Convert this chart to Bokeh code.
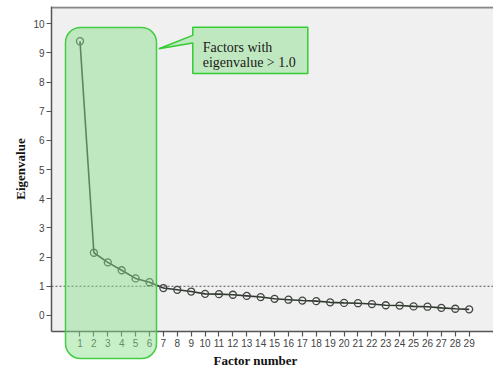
from bokeh.plotting import figure
from bokeh.models import BoxAnnotation, PolyAnnotation, Span, Label, Title, FixedTicker, ColumnDataSource, Range1d
from bokeh.embed import file_html
from bokeh.resources import INLINE

factors = list(range(1, 30))
eigenvalues = [9.40, 2.15, 1.82, 1.55, 1.27, 1.14, 0.94, 0.88, 0.82, 0.74,
               0.73, 0.71, 0.67, 0.63, 0.57, 0.54, 0.51, 0.49, 0.45, 0.43,
               0.42, 0.39, 0.35, 0.34, 0.31, 0.30, 0.26, 0.23, 0.21]
y_ticks = list(range(0, 11))
threshold = 1.0
callout_lines = ["Factors with", "eigenvalue  > 1.0"]
x_title = "Factor number"
y_title = "Eigenvalue"

W, H = 493, 369
src = ColumnDataSource(dict(x=factors, y=eigenvalues))

p = figure(width=W, height=H, output_backend="svg", toolbar_location=None,
           x_range=Range1d(-1.05, 30.75), y_range=Range1d(-0.55, 10.59),
           min_border_left=51, min_border_right=0, min_border_top=6, min_border_bottom=38)
p.background_fill_color = "#f0f0f0"
p.border_fill_color = "white"
p.outline_line_color = None
p.xgrid.visible = False
p.ygrid.visible = False

for ax in (p.xaxis[0], p.yaxis[0]):
    ax.axis_line_color = "#555555"
    ax.axis_line_width = 1.5
    ax.major_tick_line_color = "#555555"
    ax.major_tick_line_width = 1.2
    ax.major_tick_in = 0
    ax.major_tick_out = 5
    ax.minor_tick_line_color = None
    ax.major_label_text_font = "Liberation Sans"
    ax.major_label_text_font_size = "10px"
    ax.major_label_text_color = "#444444"
    ax.major_label_standoff = 2

p.xaxis.ticker = FixedTicker(ticks=factors)
p.yaxis.ticker = FixedTicker(ticks=y_ticks)

# top border
p.add_layout(Span(location=10.56, dimension="width", line_color="#888888", line_width=2))

# threshold line
p.add_layout(Span(location=threshold, dimension="width", line_color="#555555",
                  line_width=1, line_dash="2 2"))

p.line("x", "y", source=src, line_color="#2f3a2f", line_width=1.6)
p.scatter("x", "y", source=src, size=7, marker="circle", fill_color=None,
          line_color="#444444", line_width=1.3)

# callout
p.add_layout(PolyAnnotation(xs=[9.115, 17.39, 17.39, 9.115, 9.115, 6.67, 9.115],
                            ys=[9.88, 9.88, 8.29, 8.29, 9.335, 9.14, 9.60],
                            fill_color="#c0e8c0", fill_alpha=1.0,
                            line_color="#33cc33", line_alpha=1.0, line_width=1.5))
for i, t in enumerate(callout_lines):
    p.add_layout(Label(x=9.83, y=9.20 - i * 0.52, text=t, text_font="Liberation Serif",
                       text_font_size="14px", text_color="#1a1a1a",
                       text_baseline="alphabetic"))

p.add_layout(Title(text=x_title, align="left", offset=162, standoff=2,
                   text_font="Liberation Serif", text_font_size="13px",
                   text_font_style="bold", text_color="#111111"), "below")
p.add_layout(Title(text=y_title, align="center", offset=6, standoff=6,
                   text_font="Liberation Serif", text_font_size="13px",
                   text_font_style="bold", text_color="#111111"), "left")

# transparent overlay canvas for the highlight box, which extends below the axis
ov = figure(width=W, height=H, output_backend="svg", toolbar_location=None,
            x_range=Range1d(0, W), y_range=Range1d(H, 0),
            x_axis_type=None, y_axis_type=None,
            min_border_left=0, min_border_right=0, min_border_top=0, min_border_bottom=0,
            styles={"position": "absolute", "left": "0px", "top": "0px",
                    "pointer-events": "none"})
ov.background_fill_alpha = 0
ov.border_fill_alpha = 0
ov.outline_line_color = None
ov.grid.visible = False
ov.add_layout(BoxAnnotation(left=65, right=156, top=27, bottom=358,
                            left_units="canvas", right_units="canvas",
                            top_units="canvas", bottom_units="canvas",
                            fill_color="#8adf8a", fill_alpha=0.47,
                            line_color="#44cc44", line_alpha=1.0, line_width=1.5,
                            border_radius=15))

open("out.html", "w").write(file_html([p, ov], INLINE))
